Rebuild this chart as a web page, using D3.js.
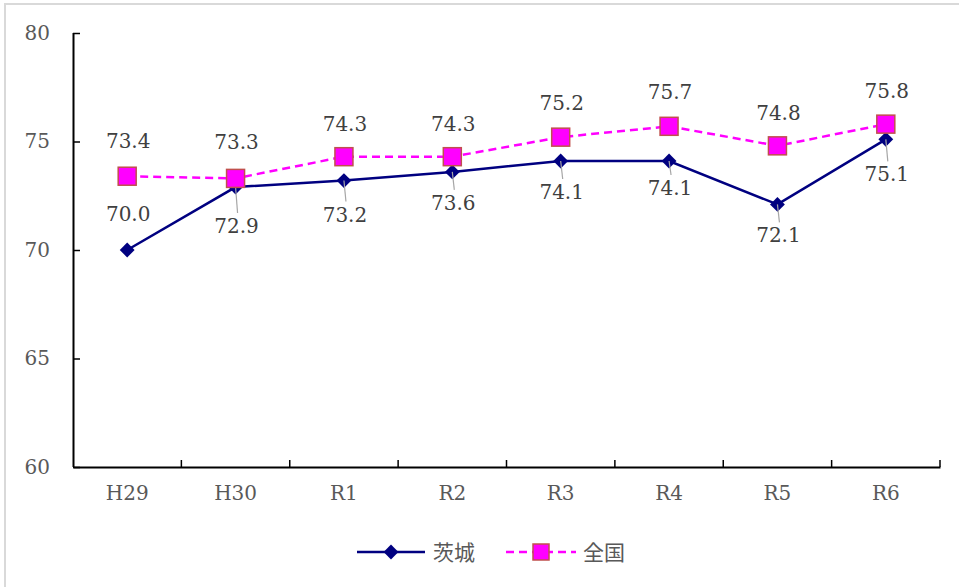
<!DOCTYPE html>
<html><head><meta charset="utf-8">
<script src="https://cdn.jsdelivr.net/npm/d3@7"></script>
<style>body{margin:0;background:#fff}svg{display:block}</style>
</head><body>
<script>
const categories = ["H29","H30","R1","R2","R3","R4","R5","R6"];
const ibaraki = [70.0, 72.9, 73.2, 73.6, 74.1, 74.1, 72.1, 75.1];
const national = [73.4, 73.3, 74.3, 74.3, 75.2, 75.7, 74.8, 75.8];
const yTicks = [60, 65, 70, 75, 80];
const seriesNames = ["茨城", "全国"];
// label vertical offsets (layout only)
const ibarakiLabelDy = [-36, 39, 34, 31, 31, 27, 31, 35];
const nationalLabelDy = [-35, -36, -33, -33, -34, -34, -33, -33];

const W = 959, H = 587;
const m = {left: 73, right: 940, top: 33, bottom: 467};
const svg = d3.select("body").append("svg").attr("width", W).attr("height", H);
svg.append("rect").attr("x", 5).attr("y", 4).attr("width", W + 10).attr("height", H + 10)
  .attr("fill", "#fff").attr("stroke", "#d9d9d9").attr("stroke-width", 2);

const x = d3.scaleBand().domain(categories).range([m.left, m.right]);
const y = d3.scaleLinear().domain([60, 80]).range([m.bottom, m.top]);
const cx = d => x(d) + x.bandwidth() / 2;

const serif = "'DejaVu Serif', 'Liberation Serif', serif";
const cjk = "'Noto Sans CJK JP', sans-serif";

// Y axis
const yAxis = svg.append("g").attr("transform", `translate(${m.left},0)`)
  .call(d3.axisRight(y).tickValues(yTicks).tickSize(7).tickFormat(d3.format("d")));
yAxis.select(".domain").attr("stroke", "#000").attr("stroke-width", 2).attr("d", `M0.5,${m.top}V${m.bottom}`);
yAxis.selectAll(".tick line").attr("stroke", "#000").attr("stroke-width", 1.5);
yAxis.selectAll(".tick text").attr("x", -23).attr("text-anchor", "end")
  .attr("font-family", serif).attr("font-size", 20).attr("fill", "#595959");

// X axis
const xAxis = svg.append("g").attr("transform", `translate(0,${m.bottom})`)
  .call(d3.axisBottom(x).tickSize(0).tickPadding(22));
xAxis.select(".domain").attr("stroke", "#000").attr("stroke-width", 2);
xAxis.selectAll(".tick text").attr("font-family", serif).attr("font-size", 20).attr("fill", "#595959").attr("dy", "0.55em");
const boundaries = categories.map(c => x(c) + x.bandwidth());
xAxis.selectAll("line.bnd").data(boundaries).join("line").attr("class", "bnd")
  .attr("x1", d => d).attr("x2", d => d).attr("y1", 0).attr("y2", -7)
  .attr("stroke", "#000").attr("stroke-width", 1.5);

// Point records
const ptsI = ibaraki.map((v, i) => ({v, c: categories[i], dy: ibarakiLabelDy[i]}));
const ptsN = national.map((v, i) => ({v, c: categories[i], dy: nationalLabelDy[i]}));

// Lines
const line = d3.line().x(d => cx(d.c)).y(d => y(d.v));
svg.append("path").attr("d", line(ptsN)).attr("fill", "none")
  .attr("stroke", "#ff00ff").attr("stroke-width", 2.5).attr("stroke-dasharray", "8,5");
svg.append("path").attr("d", line(ptsI)).attr("fill", "none")
  .attr("stroke", "#000080").attr("stroke-width", 2.5);

// Markers
const diamond = d3.symbol().type(d3.symbolSquare).size(110);
svg.selectAll("path.dia").data(ptsI).join("path").attr("class", "dia")
  .attr("d", diamond)
  .attr("transform", d => `translate(${cx(d.c)},${y(d.v)}) rotate(45)`)
  .attr("fill", "#000080");
// Leader lines
svg.selectAll("line.leader").data(ptsI.filter(d => d.dy > 0)).join("line").attr("class", "leader")
  .attr("x1", d => cx(d.c)).attr("y1", d => y(d.v))
  .attr("x2", d => cx(d.c) + 2).attr("y2", d => y(d.v) + d.dy - 13)
  .attr("stroke", "#a6a6a6").attr("stroke-width", 1.2);
svg.selectAll("rect.sq").data(ptsN).join("rect").attr("class", "sq")
  .attr("x", d => cx(d.c) - 9).attr("y", d => y(d.v) - 9)
  .attr("width", 18).attr("height", 18)
  .attr("fill", "#ff00ff").attr("stroke", "#c0504d").attr("stroke-width", 1.5);

// Data labels
svg.selectAll("text.lb").data(ptsI.concat(ptsN)).join("text").attr("class", "lb")
  .attr("x", d => cx(d.c) + 1).attr("y", d => y(d.v) + d.dy)
  .attr("dy", "0.35em").attr("text-anchor", "middle")
  .attr("font-family", serif).attr("font-size", 20).attr("fill", "#404040")
  .text(d => d.v.toFixed(1));

// Legend
const lg = svg.append("g");
const ly = 552;
lg.append("line").attr("x1", 357).attr("x2", 425).attr("y1", ly).attr("y2", ly)
  .attr("stroke", "#000080").attr("stroke-width", 2.5);
lg.append("path").attr("d", diamond).attr("transform", `translate(391,${ly}) rotate(45)`).attr("fill", "#000080");
lg.append("text").attr("x", 433).attr("y", ly).attr("dy", "0.36em")
  .attr("font-family", cjk).attr("font-size", 21).attr("fill", "#595959").text(seriesNames[0]);
lg.append("line").attr("x1", 506).attr("x2", 576).attr("y1", ly).attr("y2", ly)
  .attr("stroke", "#ff00ff").attr("stroke-width", 2.5).attr("stroke-dasharray", "8,5");
lg.append("rect").attr("x", 541 - 8).attr("y", ly - 8).attr("width", 16).attr("height", 16)
  .attr("fill", "#ff00ff").attr("stroke", "#c0504d").attr("stroke-width", 1.5);
lg.append("text").attr("x", 583).attr("y", ly).attr("dy", "0.36em")
  .attr("font-family", cjk).attr("font-size", 21).attr("fill", "#595959").text(seriesNames[1]);
</script>
</body></html>
